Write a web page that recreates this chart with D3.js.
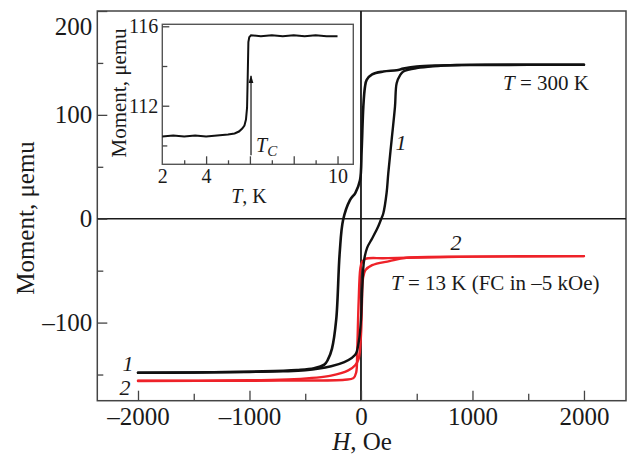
<!DOCTYPE html>
<html><head><meta charset="utf-8">
<script src="https://cdn.jsdelivr.net/npm/d3@7"></script>
<style>
html,body{margin:0;padding:0;background:#fff;}
svg{display:block;}
text{font-family:"Liberation Serif","Times New Roman",serif;fill:#1a1a1a;}
</style></head>
<body><svg id="c" width="630" height="455"></svg>
<script>
// ---- data ----
// curve 1, T = 300 K : descending branch (+2000 -> -2000)
const blackDescH = [2000, 1500, 1000, 700, 500, 380, 320, 200, 100, 51, 36, 21, 6, -9, -50, -99, -160, -191, -222, -260, -298, -329, -421, -575, -883, -1500, -2000];
const blackDescM = [148.3, 148.2, 148, 147.5, 146.5, 144.5, 143, 141.7, 139, 133.7, 127, 108, 66, 37, 25, 18, -1, -33, -97, -125, -136, -140.5, -144, -145.7, -147, -148, -148.3];
// curve 1 ascending branch (-2000 -> +2000)
const blackAscH = [-2000, -1500, -1000, -700, -500, -268, -150, -83, -52, -37, -15, 0, 12, 28, 55, 100, 148, 178, 200, 230, 245, 275, 305, 320, 350, 380, 500, 858, 1500, 2000];
const blackAscM = [-148.3, -148, -147.5, -147, -146, -142, -138, -134, -131, -127.6, -115, -97, -65, -40, -28, -19, -9, -1.2, 5, 25, 44, 76, 108, 130.5, 138, 141.7, 145, 148, 148.2, 148.3];
// curve 2, T = 13 K (FC in -5 kOe)
const redAscH = [-2000, -1000, -600, -268, -114, -52, -21, 0, 9, 18, 40, 100, 255, 409, 1000, 2000];
const redAscM = [-156, -155.5, -154.5, -151, -146, -141, -135, -112, -80, -57.5, -49.5, -44.7, -40.8, -37.6, -36.5, -36];
const redDescH = [2000, 1000, 409, 200, 40, 9, -6, -21, -34, -43, -68, -145, -600, -1000, -2000];
const redDescM = [-36, -36.5, -37.6, -38, -38.6, -41.7, -48, -80, -128, -148, -153.5, -155, -155.8, -156, -156.2];
// inset: moment vs temperature
const insetT = [2, 2.5, 3, 3.5, 4, 4.5, 5, 5.3, 5.5, 5.65, 5.75, 5.82, 5.87, 5.9, 5.93, 5.97, 6.05, 6.5, 7, 7.5, 8, 8.5, 9, 9.5, 10];
const insetM = [110.45, 110.5, 110.45, 110.5, 110.45, 110.5, 110.55, 110.6, 110.7, 110.85, 111.0, 111.3, 111.9, 113.5, 115.2, 115.45, 115.55, 115.5, 115.55, 115.5, 115.55, 115.5, 115.55, 115.5, 115.5];
const tcT = 6.05, tcArrowFrom = 109.5, tcArrowTo = 113.5;

const xTicks = [-2000, -1000, 0, 1000, 2000];
const xMinor = [-1500, -500, 500, 1500];
const yTicks = [-100, 0, 100, 200];
const yMinor = [-150, -50, 50, 150];
const insetXLabels = [2, 4, 10];
const insetXMajor = [4, 6, 8, 10];
const insetXMinor = [3, 5, 7, 9];
const insetYMajor = [112, 116];
const insetYMinor = [110, 114];

// ---- layout ----
const svg = d3.select("#c");
const L = 97.3, R = 626, T = 11, B = 400.7;
const x = d3.scaleLinear().domain([-2365, 2377]).range([L, R]);
const y = d3.scaleLinear().domain([-175.2, 200]).range([B, T]);
const ink = "#1a1a1a";
const fmt = d => (d < 0 ? "–" : "") + Math.abs(d);

// frame
svg.append("rect").attr("x", L).attr("y", T).attr("width", R - L).attr("height", B - T)
  .attr("fill", "none").attr("stroke", "#444").attr("stroke-width", 1.5);

// zero lines
svg.append("line").attr("x1", L).attr("x2", R).attr("y1", y(0)).attr("y2", y(0)).attr("stroke", ink).attr("stroke-width", 1.6);
svg.append("line").attr("x1", x(0)).attr("x2", x(0)).attr("y1", T).attr("y2", B).attr("stroke", ink).attr("stroke-width", 1.8);

function styleAxis(g, fs) {
  g.attr("font-family", null);
  g.select(".domain").remove();
  g.selectAll("line").attr("stroke", "#444").attr("stroke-width", 1.3);
  g.selectAll("text").attr("font-size", fs).attr("fill", ink)
   .style("font-family", '"Liberation Serif","Times New Roman",serif');
}
// x axis
const gx = svg.append("g").attr("transform", `translate(0,${B})`)
  .call(d3.axisBottom(x).tickValues(xTicks).tickSize(-10).tickPadding(7).tickFormat(fmt));
styleAxis(gx, 25);
const gxm = svg.append("g").attr("transform", `translate(0,${B})`)
  .call(d3.axisBottom(x).tickValues(xMinor).tickSize(-7).tickFormat(""));
styleAxis(gxm, 25);
// y axis
const gy = svg.append("g").attr("transform", `translate(${L},0)`)
  .call(d3.axisLeft(y).tickValues(yTicks).tickSize(-10).tickPadding(5).tickFormat(fmt));
styleAxis(gy, 25);
gy.selectAll(".tick").filter(d => d === 200).select("text").attr("dy", "0.95em");
const gym = svg.append("g").attr("transform", `translate(${L},0)`)
  .call(d3.axisLeft(y).tickValues(yMinor).tickSize(-6).tickFormat(""));
styleAxis(gym, 25);

// axis titles
svg.append("text").attr("transform", "translate(34,218) rotate(-90)").attr("text-anchor", "middle")
  .attr("font-size", 25).text("Moment, μemu");
const xt = svg.append("text").attr("x", 362).attr("y", 450).attr("text-anchor", "middle").attr("font-size", 25);
xt.append("tspan").attr("font-style", "italic").text("H");
xt.append("tspan").text(", Oe");

// curves
const line = d3.line().x(d => x(d[0])).y(d => y(d[1])).curve(d3.curveCatmullRom.alpha(0.5));
function branch(hs, ms, color, w) {
  svg.append("path").attr("d", line(hs.map((h, i) => [h, ms[i]])))
    .attr("fill", "none").attr("stroke", color).attr("stroke-width", w)
    .attr("stroke-linejoin", "round").attr("stroke-linecap", "round");
}
branch(redAscH, redAscM, "#ee2229", 2.4);
branch(redDescH, redDescM, "#ee2229", 2.4);
branch(blackAscH, blackAscM, "#111", 2.4);
branch(blackDescH, blackDescM, "#111", 2.6);

// annotations
function label(xp, yp, parts, fs, anchor) {
  const t = svg.append("text").attr("x", xp).attr("y", yp).attr("font-size", fs).attr("text-anchor", anchor || "start");
  parts.forEach(p => t.append("tspan").attr("font-style", p[1] ? "italic" : "normal").text(p[0]));
  return t;
}
label(503, 90, [["T", true], [" = 300 K", false]], 21);
label(401, 150, [["1", true]], 22, "middle");
label(456, 250, [["2", true]], 22, "middle");
label(391, 290, [["T", true], [" = 13 K (FC in –5 kOe)", false]], 21);
label(128, 371, [["1", true]], 22, "middle");
label(125, 395, [["2", true]], 22, "middle");

// ---- inset ----
const iL = 162.3, iR = 353.3, iT = 24.3, iB = 164.3;
const ix = d3.scaleLinear().domain([2, 10.72]).range([iL, iR]);
const iy = d3.scaleLinear().domain([109.05, 116.1]).range([iB, iT]);
svg.append("rect").attr("x", iL).attr("y", iT).attr("width", iR - iL).attr("height", iB - iT)
  .attr("fill", "#fff").attr("stroke", "#555").attr("stroke-width", 1.4);

const gix = svg.append("g").attr("transform", `translate(0,${iB})`)
  .call(d3.axisBottom(ix).tickValues(insetXMajor).tickSize(-8).tickFormat(""));
styleAxis(gix, 19);
const gixm = svg.append("g").attr("transform", `translate(0,${iB})`)
  .call(d3.axisBottom(ix).tickValues(insetXMinor).tickSize(-4).tickFormat(""));
styleAxis(gixm, 19);
const gixl = svg.append("g").attr("transform", `translate(0,${iB})`)
  .call(d3.axisBottom(ix).tickValues(insetXLabels).tickSize(0).tickPadding(5).tickFormat(d3.format("d")));
styleAxis(gixl, 20);
const giy = svg.append("g").attr("transform", `translate(${iL},0)`)
  .call(d3.axisLeft(iy).tickValues(insetYMajor).tickSize(-7).tickPadding(4).tickFormat(d3.format("d")));
styleAxis(giy, 20);
const giym = svg.append("g").attr("transform", `translate(${iL},0)`)
  .call(d3.axisLeft(iy).tickValues(insetYMinor).tickSize(-5).tickFormat(""));
styleAxis(giym, 20);

svg.append("text").attr("transform", "translate(126,93) rotate(-90)").attr("text-anchor", "middle")
  .attr("font-size", 21).text("Moment, μemu");
label(249, 203, [["T", true], [", K", false]], 20, "middle");

const iline = d3.line().x(d => ix(d[0])).y(d => iy(d[1]));
svg.append("path").attr("d", iline(insetT.map((t, i) => [t, insetM[i]])))
  .attr("fill", "none").attr("stroke", "#111").attr("stroke-width", 2);

// Tc arrow
svg.append("defs").append("marker").attr("id", "ah").attr("viewBox", "0 0 10 10")
  .attr("refX", 9).attr("refY", 5).attr("markerWidth", 7).attr("markerHeight", 9).attr("orient", "auto")
  .append("path").attr("d", "M0,2 L10,5 L0,8 Z").attr("fill", "#111");
svg.append("line").attr("x1", ix(tcT)).attr("x2", ix(tcT)).attr("y1", iy(tcArrowFrom)).attr("y2", iy(tcArrowTo))
  .attr("stroke", "#111").attr("stroke-width", 1.2).attr("marker-end", "url(#ah)");
const tc = svg.append("text").attr("x", 256).attr("y", 152).attr("font-size", 20);
tc.append("tspan").attr("font-style", "italic").text("T");
tc.append("tspan").attr("font-style", "italic").attr("font-size", 15).attr("dy", 4).text("C");
</script></body></html>
